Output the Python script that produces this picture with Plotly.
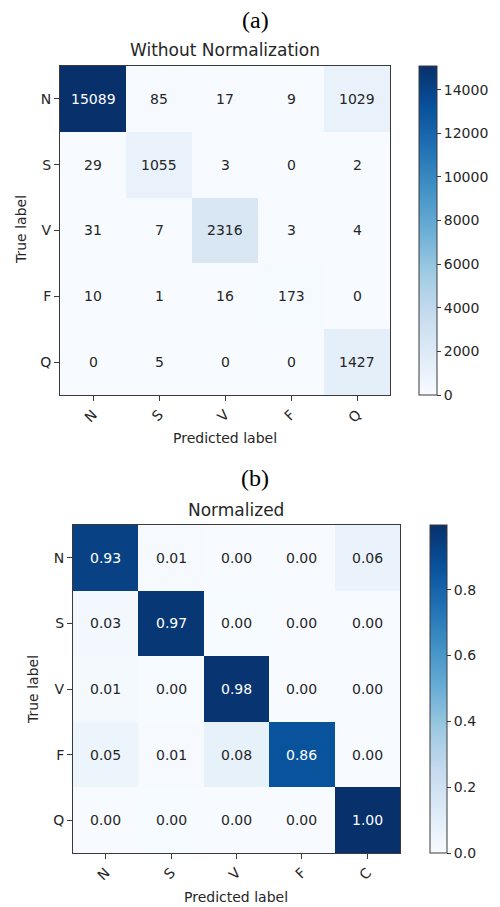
import plotly.graph_objects as go

# page body has an 8px margin; the figure is sized so it fits the 500x907 window
OFF = 8
W, H = 500 - OFF, 907 - OFF

classes = ["N", "S", "V", "F", "Q"]
pred_tick_labels_a = ["N", "S", "V", "F", "Q"]
pred_tick_labels_b = ["N", "S", "V", "F", "C"]

counts = [
    [15089, 85, 17, 9, 1029],
    [29, 1055, 3, 0, 2],
    [31, 7, 2316, 3, 4],
    [10, 1, 16, 173, 0],
    [0, 5, 0, 0, 1427],
]

normalized = [
    [0.9298, 0.0052, 0.0010, 0.0006, 0.0634],
    [0.0266, 0.9688, 0.0028, 0.0000, 0.0018],
    [0.0131, 0.0030, 0.9809, 0.0013, 0.0017],
    [0.0500, 0.0050, 0.0800, 0.8650, 0.0000],
    [0.0000, 0.0035, 0.0000, 0.0000, 0.9965],
]

cbar_ticks_a = [0, 2000, 4000, 6000, 8000, 10000, 12000, 14000]
cbar_ticks_b = [0.0, 0.2, 0.4, 0.6, 0.8]

blues = [
    [0.0, "rgb(247,251,255)"], [0.125, "rgb(222,235,247)"], [0.25, "rgb(198,219,239)"],
    [0.375, "rgb(158,202,225)"], [0.5, "rgb(107,174,214)"], [0.625, "rgb(66,146,198)"],
    [0.75, "rgb(33,113,181)"], [0.875, "rgb(8,81,156)"], [1.0, "rgb(8,48,107)"],
]

TXT = "#262626"
FONT = "DejaVu Sans"


def px_x(x):
    return (x - OFF) / W


def px_y(y):
    return 1 - (y - OFF) / H


# panel geometry in window pixels: (left, right, top, bottom)
geo_a = (60, 390, 66, 395)
geo_b = (73, 400, 525, 853)
cb_a = (419, 18)
cb_b = (430, 17)

fig = go.Figure()


def add_panel(z, xa, ya, geo, cb, cticks, fmt, kind):
    l, r, t, b = geo
    zmax = max(max(row) for row in z)
    fig.add_trace(go.Heatmap(
        z=z, x=classes, y=classes, xaxis=xa, yaxis=ya,
        colorscale=blues, zmin=0, zmax=zmax, xgap=0, ygap=0,
        hoverinfo="skip",
        colorbar=dict(
            x=px_x(cb[0]), xanchor="left", thickness=cb[1], thicknessmode="pixels",
            y=px_y(b), yanchor="bottom", len=(b - t) / H, lenmode="fraction",
            outlinewidth=1, outlinecolor="#3a3a3a",
            tickvals=cticks, ticks="outside", ticklen=4, tickcolor="#3a3a3a",
            tickfont=dict(family=FONT, size=14, color=TXT),
            tickformat=fmt, xpad=0, ypad=0,
        ),
    ))
    thresh = zmax / 2
    for i, row in enumerate(z):
        for j, v in enumerate(row):
            fig.add_annotation(
                x=classes[j], y=classes[i], xref=xa, yref=ya,
                text=(f"{v:.2f}" if kind == "b" else f"{v:d}"),
                showarrow=False,
                font=dict(family=FONT, size=14, color="white" if v > thresh else TXT),
            )


add_panel(counts, "x", "y", geo_a, cb_a, cbar_ticks_a, "d", "a")
add_panel(normalized, "x2", "y2", geo_b, cb_b, cbar_ticks_b, ".1f", "b")

axis_common = dict(
    showline=True, mirror=True, linecolor="#3a3a3a", linewidth=1,
    ticks="outside", ticklen=5, tickcolor="#3a3a3a", showgrid=False, zeroline=False,
    tickfont=dict(family=FONT, size=14, color=TXT), fixedrange=True,
)

fig.update_layout(
    width=W, height=H, margin=dict(l=0, r=0, t=0, b=0),
    paper_bgcolor="white", plot_bgcolor="white", showlegend=False,
    xaxis=dict(domain=[px_x(geo_a[0]), px_x(geo_a[1])], anchor="y", tickangle=-45,
               tickvals=classes, ticktext=pred_tick_labels_a, **axis_common),
    yaxis=dict(domain=[px_y(geo_a[3]), px_y(geo_a[2])], anchor="x", autorange="reversed",
               tickvals=classes, ticktext=classes, **axis_common),
    xaxis2=dict(domain=[px_x(geo_b[0]), px_x(geo_b[1])], anchor="y2", tickangle=-45,
                tickvals=classes, ticktext=pred_tick_labels_b, **axis_common),
    yaxis2=dict(domain=[px_y(geo_b[3]), px_y(geo_b[2])], anchor="x2", autorange="reversed",
                tickvals=classes, ticktext=classes, **axis_common),
)

labels = [
    ("(a)", 255, 20, 0, "Liberation Serif", 24, "black"),
    ("Without Normalization", 225, 50, 0, FONT, 17, TXT),
    ("Predicted label", 225, 438, 0, FONT, 14, TXT),
    ("True label", 21, 230, -90, FONT, 14, TXT),
    ("(b)", 255, 478, 0, "Liberation Serif", 24, "black"),
    ("Normalized", 236, 510, 0, FONT, 17, TXT),
    ("Predicted label", 236, 897, 0, FONT, 14, TXT),
    ("True label", 33, 690, -90, FONT, 14, TXT),
]
for text, x, y, ang, fam, size, col in labels:
    fig.add_annotation(
        text=text, x=px_x(x), y=px_y(y), xref="paper", yref="paper",
        xanchor="center", yanchor="middle", showarrow=False, textangle=ang,
        font=dict(family=fam, size=size, color=col),
    )

fig.write_html("out.html")
